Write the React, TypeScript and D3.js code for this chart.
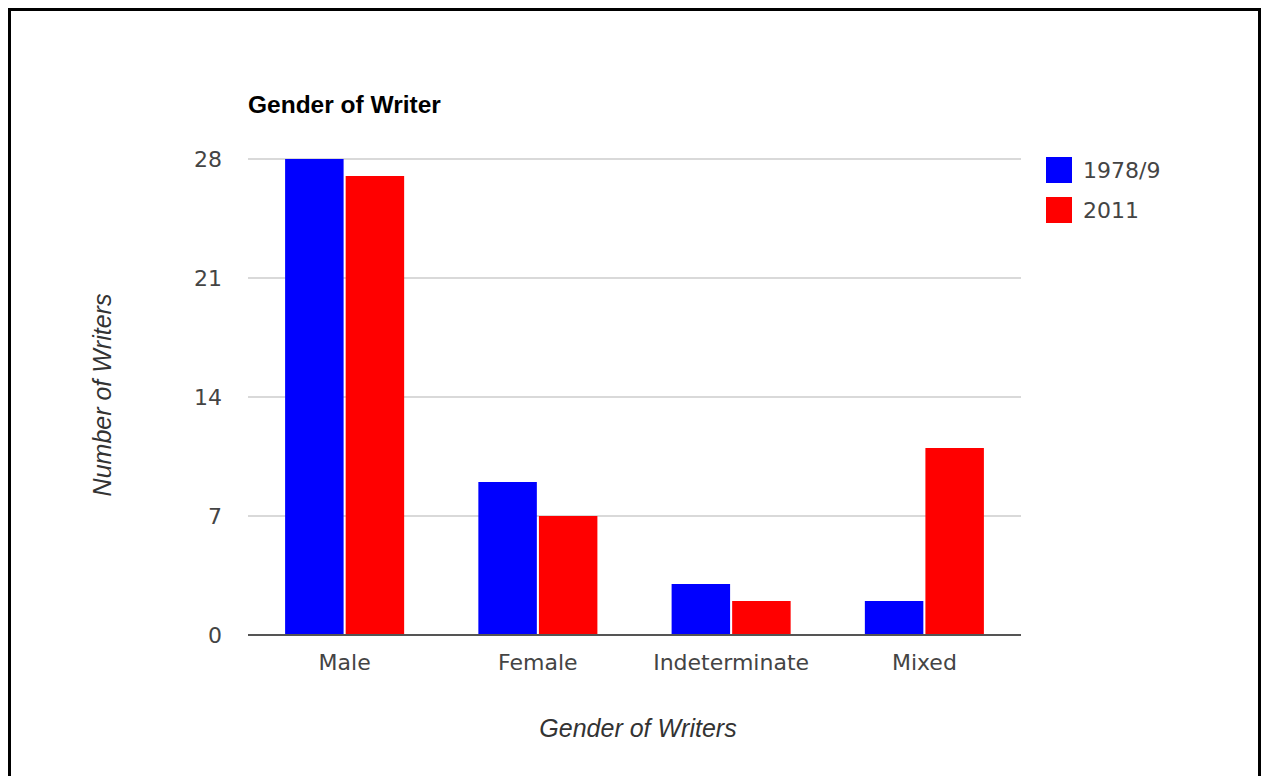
import React from 'react';
import * as d3 from 'd3';

// data
const categories = ['Male', 'Female', 'Indeterminate', 'Mixed'];
const seriesNames = ['1978/9', '2011'];
const values1978 = [28, 9, 3, 2];
const values2011 = [27, 7, 2, 11];
const yTicks = [0, 7, 14, 21, 28];
const colors = ['#0000ff', '#ff0000'];

const App = () => {
  const width = 1264;
  const height = 776;
  const plot = { left: 248, right: 1021, top: 159, bottom: 635 };

  const x0 = d3.scaleBand<string>()
    .domain(categories)
    .range([plot.left, plot.right])
    .paddingInner(0.384)
    .paddingOuter(0.192);

  const x1 = d3.scaleBand<string>()
    .domain(seriesNames)
    .range([0, x0.bandwidth()])
    .paddingInner(0.034);

  const y = d3.scaleLinear().domain([0, 28]).range([plot.bottom, plot.top]);

  const seriesValues = [values1978, values2011];

  const tickFont = 'DejaVu Sans, sans-serif';
  const titleFont = '"Liberation Sans", Arial, sans-serif';

  return (
    <svg
      width={width}
      height={height}
      viewBox={`0 0 ${width} ${height}`}
      style={{ position: 'absolute', left: 0, top: 0, background: 'white' }}
    >
      {/* frame, bottom runs off the page */}
      <rect x={9.5} y={9.5} width={1250} height={800} fill="white" stroke="black" strokeWidth={3} />

      {/* title */}
      <text x={248} y={113} fontFamily={titleFont} fontWeight="bold" fontSize={24.5} fill="#000">
        Gender of Writer
      </text>

      {/* gridlines */}
      {yTicks.filter(t => t !== 0).map(t => (
        <line key={t} x1={plot.left} x2={plot.right} y1={y(t)} y2={y(t)} stroke="#cccccc" strokeWidth={1.5} />
      ))}

      {/* y tick labels */}
      {yTicks.map(t => (
        <text key={'yl' + t} x={222} y={y(t)} dy="0.36em" textAnchor="end"
          fontFamily={tickFont} fontSize={22} fill="#444">
          {t}
        </text>
      ))}

      {/* bars */}
      {categories.map((c, i) => (
        <g key={c} transform={`translate(${x0(c)},0)`}>
          {seriesNames.map((s, j) => (
            <rect key={s}
              x={x1(s)}
              y={y(seriesValues[j][i])}
              width={x1.bandwidth()}
              height={y(0) - y(seriesValues[j][i])}
              fill={colors[j]} />
          ))}
        </g>
      ))}

      {/* baseline */}
      <line x1={plot.left} x2={plot.right} y1={y(0)} y2={y(0)} stroke="#555" strokeWidth={2} />

      {/* x labels */}
      {categories.map(c => (
        <text key={'xl' + c} x={(x0(c) as number) + x0.bandwidth() / 2} y={670} textAnchor="middle"
          fontFamily={tickFont} fontSize={22} fill="#444">
          {c}
        </text>
      ))}

      {/* axis titles */}
      <text x={638} y={737} textAnchor="middle" fontFamily={titleFont} fontStyle="italic" fontSize={25} fill="#333">
        Gender of Writers
      </text>
      <text transform="translate(111,395) rotate(-90)" textAnchor="middle" fontFamily={titleFont}
        fontStyle="italic" fontSize={25} fill="#333">
        Number of Writers
      </text>

      {/* legend */}
      {seriesNames.map((s, j) => (
        <g key={'lg' + s} transform={`translate(1046,${157 + j * 40})`}>
          <rect width={26} height={26} fill={colors[j]} />
          <text x={37} y={13} dy="0.36em" fontFamily={tickFont} fontSize={22} fill="#444">{s}</text>
        </g>
      ))}
    </svg>
  );
};

export default App;
